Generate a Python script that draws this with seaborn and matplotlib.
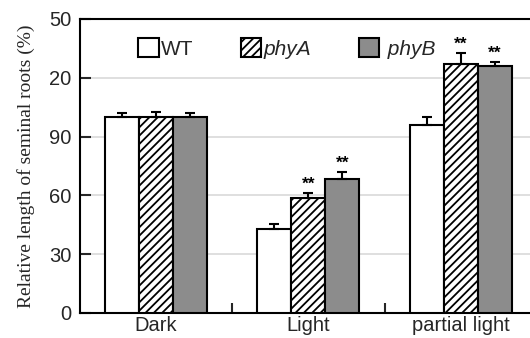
import matplotlib
matplotlib.use("Agg")
import matplotlib.pyplot as plt
import seaborn as sns
import pandas as pd
import numpy as np
from matplotlib.patches import Patch
from matplotlib.ticker import FixedLocator

conditions = ["Dark", "Light", "partial light"]
genotypes = ["WT", "phyA", "phyB"]
wt_vals = [100, 43, 96]
phya_vals = [100, 58.5, 127]
phyb_vals = [100, 68.5, 126]
wt_err = [2.0, 2.5, 4.0]
phya_err = [2.5, 2.5, 5.5]
phyb_err = [2.0, 3.3, 1.8]
ytick_vals = [0, 30, 60, 90, 120, 150]
ytick_labels = ["0", "30", "60", "90", "20", "50"]
stars = {("Light", "phyA"), ("Light", "phyB"), ("partial light", "phyA"), ("partial light", "phyB")}

rows = []
for g, vals, errs in zip(genotypes, [wt_vals, phya_vals, phyb_vals], [wt_err, phya_err, phyb_err]):
    for c, v, e in zip(conditions, vals, errs):
        rows.append({"cond": c, "geno": g, "val": v, "err": e})
df = pd.DataFrame(rows)

sns.set_style("white")
plt.rcParams["font.family"] = ["Liberation Sans", "DejaVu Sans"]
plt.rcParams["hatch.linewidth"] = 1.3

fig = plt.figure(figsize=(5.30, 3.38), dpi=100)
ax = fig.add_axes([0.151, 0.074, 0.862, 0.870])

colors = {"WT": "white", "phyA": "white", "phyB": "#8c8c8c"}
sns.barplot(data=df, x="cond", y="val", hue="geno", order=conditions, hue_order=genotypes,
            palette=colors, width=0.67, edgecolor="black", linewidth=1.5,
            errorbar=None, ax=ax, legend=False, zorder=3)

containers = ax.containers
for gi, (g, cont) in enumerate(zip(genotypes, containers)):
    for ci, bar in enumerate(cont):
        if g == "phyA":
            bar.set_hatch("////")
        x = bar.get_x() + bar.get_width() / 2
        sub = df[(df.geno == g) & (df.cond == conditions[ci])].iloc[0]
        ax.errorbar(x, sub.val, yerr=[[0], [sub.err]], fmt="none", ecolor="black",
                    elinewidth=1.5, capsize=3.5, capthick=1.5, zorder=4)
        if (conditions[ci], g) in stars:
            ax.text(x, sub.val + sub.err + 1.0, "**", ha="center", va="bottom",
                    fontsize=12.5, fontweight="bold", color="black")

ax.set_ylim(0, 150)
ax.set_xlim(-0.5, 2.5)
ax.set_yticks(ytick_vals)
ax.set_yticklabels(ytick_labels)
ax.yaxis.grid(True, color="#d9d9d9", linewidth=1.2, zorder=0)
ax.set_axisbelow(True)
ax.tick_params(axis="y", direction="in", length=8, width=1.5, labelsize=14.5, pad=6, left=True)
ax.tick_params(axis="x", which="major", length=0, labelsize=14.5, pad=2)
ax.xaxis.set_minor_locator(FixedLocator([0.5, 1.5]))
ax.tick_params(axis="x", which="minor", direction="in", length=7, width=1.5, bottom=True)
for s in ["left", "bottom", "top"]:
    ax.spines[s].set_linewidth(1.5)
    ax.spines[s].set_color("black")
ax.spines["right"].set_visible(False)

ax.set_xlabel("")
ax.set_ylabel("Relative length of seminal roots (%)", family=["Liberation Serif"], fontsize=14, labelpad=10)

handles = [Patch(facecolor="white", edgecolor="black", linewidth=1.5),
           Patch(facecolor="white", edgecolor="black", linewidth=1.5, hatch="////"),
           Patch(facecolor="#8c8c8c", edgecolor="black", linewidth=1.5)]
leg = ax.legend(handles, ["WT", "phyA", " phyB"], loc="center left", bbox_to_anchor=(0.108, 0.90),
                ncol=3, frameon=False, fontsize=15, handlelength=1.0, handleheight=1.0,
                handletextpad=0.1, columnspacing=2.28, borderaxespad=0)
for t in leg.get_texts()[1:]:
    t.set_fontstyle("italic")

fig.savefig("out.png", dpi=100)
